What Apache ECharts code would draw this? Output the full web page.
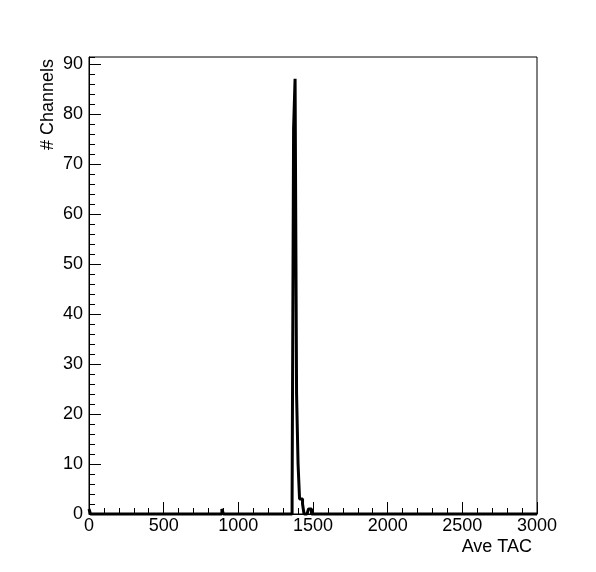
<!DOCTYPE html>
<html>
<head>
<meta charset="utf-8">
<script src="https://cdn.jsdelivr.net/npm/echarts@6/dist/echarts.min.js"></script>
<style>html,body{margin:0;padding:0;background:#fff;}#c{width:596px;height:572px;}</style>
</head>
<body>
<div id="c"></div>
<script>
// Histogram: Ave TAC, bin width 10
const binWidth = 10;
const xMin = 0, xMax = 3000;
const yMax = 91.35;
// non-empty bins (lower edge) and their counts
const binStarts = [0, 890, 1360, 1370, 1380, 1390, 1400, 1410, 1420, 1430, 1470, 1480];
const binCounts = [1, 1, 3, 77, 87, 24, 10, 3, 3, 2, 1, 1];
const xTicks = [0, 500, 1000, 1500, 2000, 2500, 3000];
const yTicks = [0, 10, 20, 30, 40, 50, 60, 70, 80, 90];

const countMap = {};
binStarts.forEach((s, i) => { countMap[s] = binCounts[i]; });
const stepData = [];
for (let e = xMin; e < xMax; e += binWidth) {
  stepData.push([e, countMap[e] || 0]);
}
stepData.push([xMax, 0]);

const font = '"Liberation Sans", Arial, Helvetica, sans-serif';
const chart = echarts.init(document.getElementById('c'), null, {renderer: 'canvas'});
chart.setOption({
  animation: false,
  backgroundColor: '#fff',
  grid: {left: 89, right: 59, top: 57, bottom: 58, show: true, borderColor: '#000', borderWidth: 1, backgroundColor: 'transparent'},
  xAxis: {
    type: 'value', min: xMin, max: xMax, interval: 500,
    axisLine: {show: true, onZero: false, lineStyle: {color: '#000', width: 1}},
    axisTick: {show: true, inside: true, length: 12, lineStyle: {color: '#000'}},
    minorTick: {show: true, splitNumber: 5, length: 6, lineStyle: {color: '#000'}},
    splitLine: {show: false},
    axisLabel: {color: '#000', fontSize: 18, fontFamily: font, margin: 3, formatter: v => xTicks.includes(v) ? String(v) : ''},
    name: 'Ave TAC', nameLocation: 'end', nameGap: -5,
    nameTextStyle: {color: '#000', fontSize: 18, fontFamily: font, align: 'right', verticalAlign: 'top', padding: [24, 0, 0, 0]}
  },
  yAxis: [{
    type: 'value', min: 0, max: yMax, interval: 10,
    axisLine: {show: true, lineStyle: {color: '#000', width: 1}},
    axisTick: {show: true, inside: true, length: 12, lineStyle: {color: '#000'}},
    splitLine: {show: false},
    axisLabel: {color: '#000', fontSize: 18, fontFamily: font, margin: 6, showMaxLabel: false, formatter: v => yTicks.includes(v) ? String(v) : ''}
  }, {
    type: 'value', min: 0, max: yMax, interval: 2, position: 'left', offset: 0,
    axisLine: {show: false},
    axisTick: {show: true, inside: true, length: 6, lineStyle: {color: '#000'}},
    splitLine: {show: false},
    axisLabel: {show: false}
  }],
  graphic: [{
    type: 'text', x: 48, y: 59, rotation: Math.PI / 2,
    style: {text: '# Channels', fill: '#000', font: '18px ' + font, align: 'right', verticalAlign: 'middle'}
  }],
  series: [{
    type: 'line', step: 'end', data: stepData, yAxisIndex: 0,
    showSymbol: false, symbol: 'none', clip: false,
    lineStyle: {color: '#000', width: 3}
  }]
});
</script>
</body>
</html>
